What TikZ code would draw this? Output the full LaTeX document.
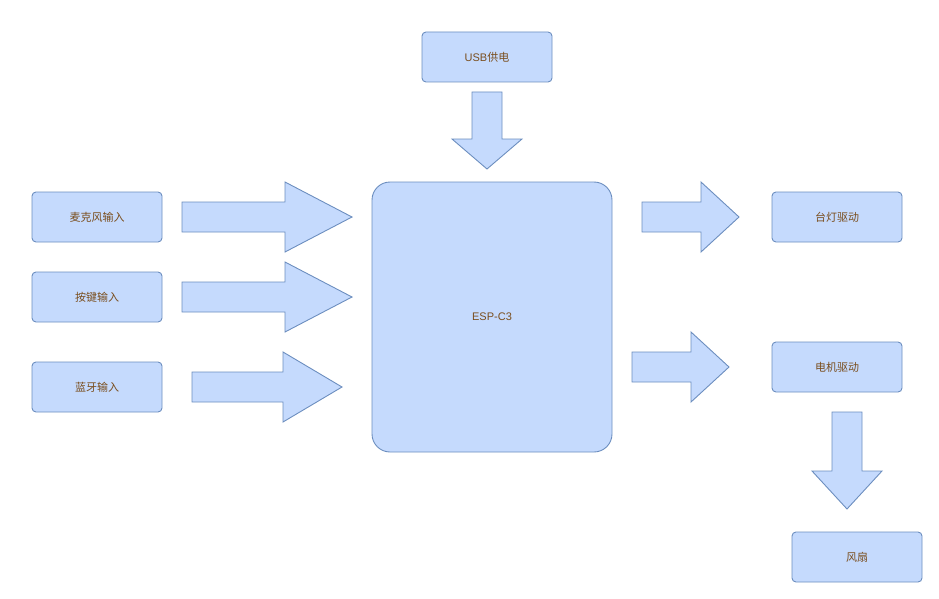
\documentclass[tikz,border=0pt]{standalone}
\usepackage{fontspec}
\setmainfont{Liberation Sans}
\newfontfamily\cjk{Noto Sans CJK SC}
\usepackage{tikz}
\usetikzlibrary{positioning}
\definecolor{boxfill}{RGB}{197,218,253}
\definecolor{boxline}{RGB}{108,142,191}
\definecolor{boxtext}{RGB}{122,78,30}

\begin{document}
\begin{tikzpicture}[x=1pt, y=-1pt,
  block/.style={rectangle, rounded corners=4pt, draw=boxline, fill=boxfill,
    line width=0.9pt, text=boxtext, font=\fontsize{11}{13}\selectfont,
    minimum width=130pt, minimum height=50pt, inner sep=0pt},
  bigarrow/.style={draw=boxline, fill=boxfill, line width=0.9pt, line join=miter}]
  \useasboundingbox (0,0) rectangle (939,599);

  % boxes
  \node[block] (usb) at (487,57) {USB{\cjk 供电}};
  \node[block] (mic) at (97,217) {\cjk 麦克风输入};
  \node[block] (key) at (97,297) {\cjk 按键输入};
  \node[block] (bt) at (97,387) {\cjk 蓝牙输入};
  \node[block, minimum width=240pt, minimum height=270pt, rounded corners=18pt]
    (esp) at (492,317) {ESP-C3};
  \node[block] (lamp) at (837,217) {\cjk 台灯驱动};
  \node[block] (motor) at (837,367) {\cjk 电机驱动};
  \node[block] (fan) at (857,557) {\cjk 风扇};

  % arrows
  \draw[bigarrow] (472,92) -- (502,92) -- (502,139) -- (522,139) -- (487,169)
    -- (452,139) -- (472,139) -- cycle;
  \draw[bigarrow] (182,202) -- (285,202) -- (285,182) -- (352,217) -- (285,252)
    -- (285,232) -- (182,232) -- cycle;
  \draw[bigarrow] (182,282) -- (285,282) -- (285,262) -- (352,297) -- (285,332)
    -- (285,312) -- (182,312) -- cycle;
  \draw[bigarrow] (192,372) -- (283,372) -- (283,352) -- (342,387) -- (283,422)
    -- (283,402) -- (192,402) -- cycle;
  \draw[bigarrow] (642,202) -- (701,202) -- (701,182) -- (739,217) -- (701,252)
    -- (701,232) -- (642,232) -- cycle;
  \draw[bigarrow] (632,352) -- (691,352) -- (691,332) -- (729,367) -- (691,402)
    -- (691,382) -- (632,382) -- cycle;
  \draw[bigarrow] (832,412) -- (862,412) -- (862,471) -- (882,471) -- (847,509)
    -- (812,471) -- (832,471) -- cycle;
\end{tikzpicture}
\end{document}
